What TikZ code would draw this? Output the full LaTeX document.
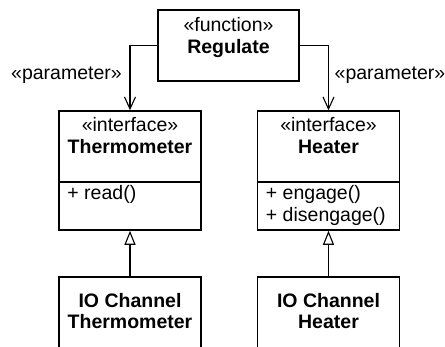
\documentclass[tikz,border=0pt]{standalone}
\usepackage{fontspec}
\setmainfont{Liberation Sans}
\usetikzlibrary{arrows.meta,calc}
\begin{document}
\begin{tikzpicture}[x=1pt,y=-1pt,
  box/.style={draw, line width=1.5pt, inner sep=0pt, minimum width=142},
  txt/.style={inner sep=0pt, align=center, font=\fontsize{19.5}{21.5}\selectfont},
  optxt/.style={inner sep=0pt, align=left, font=\fontsize{19.5}{21.5}\selectfont},
  dep/.style={line width=1.1pt, -{Straight Barb[length=12pt,width=11pt,line width=1.1pt]}},
  gen/.style={line width=1.1pt, -{Triangle[open,length=14pt,width=11pt,line width=1.1pt]}}]
\useasboundingbox (0,0) rectangle (445,346);
\clip (0,0) rectangle (445,346);
\fill[white] (0,0) rectangle (445,346);
% function box
\node[box, minimum width=141, minimum height=71] (reg) at (228.5,45.5) {};
\node[txt, anchor=north] (regT) at ($(reg.north)+(0,8)$) {«function»\\\textbf{Regulate}};
% interfaces
\node[box, minimum height=71] (thermH) at (130,146.5) {};
\node[box, minimum height=48] (thermO) at (130,206) {};
\node[txt, anchor=north] (thermT) at ($(thermH.north)+(0,7)$) {«interface»\\\textbf{Thermometer}};
\node[optxt, anchor=north west] (thermOps) at ($(thermO.north west)+(9,4)$) {+ read()};
\node[box, minimum height=71] (heatH) at (328.5,146.5) {};
\node[box, minimum height=48] (heatO) at (328.5,206) {};
\node[txt, anchor=north] (heatT) at ($(heatH.north)+(0,7)$) {«interface»\\\textbf{Heater}};
\node[optxt, anchor=north west] (heatOps) at ($(heatO.north west)+(9,4)$) {+ engage()\\+ disengage()};
% IO channels
\node[box, minimum height=100] (ioT) at (130,327) {};
\node[txt, anchor=north] (ioTT) at ($(ioT.north)+(0,16.5)$) {\textbf{IO Channel}\\\textbf{Thermometer}};
\node[box, minimum height=100] (ioH) at (328.5,327) {};
\node[txt, anchor=north] (ioHT) at ($(ioH.north)+(0,16.5)$) {\textbf{IO Channel}\\\textbf{Heater}};
% dependencies
\draw[dep] (reg.west) -| (thermH.north);
\draw[dep] (reg.east) -| (heatH.north);
\node[txt, anchor=base] (p1) at (66.5,79) {«parameter»};
\node[txt, anchor=base] (p2) at (390,79) {«parameter»};
% generalizations
\draw[gen] (ioT.north) -- (thermO.south);
\draw[gen] (ioH.north) -- (heatO.south);
\end{tikzpicture}
\end{document}
